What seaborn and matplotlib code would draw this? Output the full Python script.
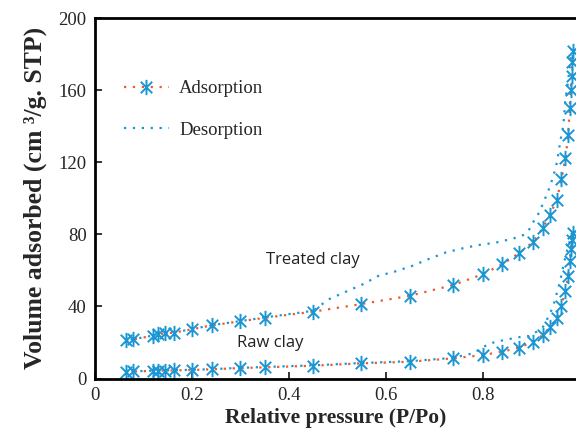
import numpy as np
import seaborn as sns
import matplotlib.pyplot as plt
from matplotlib.lines import Line2D
from matplotlib.path import Path

# Treated clay - adsorption branch (markers)
treated_ads_p = [0.064, 0.079, 0.119, 0.131, 0.144, 0.162, 0.200, 0.241, 0.299, 0.351,
                 0.451, 0.550, 0.650, 0.740, 0.800, 0.841, 0.875, 0.905, 0.924, 0.939,
                 0.953, 0.963, 0.971, 0.977, 0.980, 0.982, 0.984, 0.985, 0.987]
treated_ads_v = [21.4, 21.7, 23.7, 24.5, 25.1, 25.4, 27.3, 29.5, 31.7, 33.7,
                 37.1, 41.3, 45.9, 51.9, 57.8, 63.4, 69.5, 75.9, 83.3, 90.7,
                 98.8, 110.5, 122.2, 135.1, 149.9, 160.1, 168.0, 175.4, 181.9]

# Treated clay - desorption branch (dotted)
treated_des_p = [0.987, 0.984, 0.980, 0.977, 0.971, 0.967, 0.961, 0.954, 0.946, 0.936,
                 0.925, 0.918, 0.907, 0.898, 0.888, 0.876, 0.860, 0.843, 0.826, 0.790,
                 0.757, 0.724, 0.688, 0.655, 0.621, 0.585, 0.553, 0.515, 0.482, 0.451,
                 0.351, 0.299, 0.241, 0.200, 0.162, 0.119, 0.079, 0.064]
treated_des_v = [182.0, 182.3, 173.0, 165.6, 154.5, 140.6, 132.3, 120.3, 112.0, 104.2,
                 97.2, 92.5, 87.9, 83.3, 80.0, 78.7, 77.4, 76.4, 75.3, 74.0,
                 72.1, 69.9, 66.2, 62.5, 59.5, 56.9, 52.3, 47.8, 43.9, 37.6,
                 33.9, 31.8, 29.6, 27.4, 25.5, 23.8, 21.8, 21.5]

# Raw clay - adsorption branch (markers)
raw_ads_p = [0.064, 0.079, 0.119, 0.131, 0.144, 0.162, 0.200, 0.241, 0.299, 0.351,
             0.451, 0.550, 0.650, 0.740, 0.800, 0.841, 0.875, 0.905, 0.924, 0.939,
             0.953, 0.963, 0.971, 0.977, 0.980, 0.982, 0.984, 0.986]
raw_ads_v = [3.8, 3.9, 4.2, 4.3, 4.4, 4.5, 4.7, 5.1, 5.8, 6.2,
             7.1, 8.4, 9.3, 11.2, 13.0, 14.9, 17.1, 20.4, 24.1, 28.4,
             33.4, 40.2, 48.7, 56.9, 65.4, 71.7, 76.8, 80.5]

# Raw clay - desorption branch (dotted)
raw_des_p = [0.986, 0.984, 0.979, 0.973, 0.968, 0.963, 0.958, 0.951, 0.946, 0.938,
             0.925, 0.912, 0.896, 0.881, 0.863, 0.846, 0.828, 0.812, 0.781, 0.764,
             0.740, 0.650, 0.550, 0.451, 0.351, 0.299, 0.241, 0.200, 0.162, 0.119,
             0.079, 0.064]
raw_des_v = [80.5, 80.5, 75.0, 69.5, 63.9, 57.4, 51.9, 45.0, 40.2, 35.2,
             28.7, 26.0, 23.6, 23.2, 22.3, 21.4, 20.4, 19.1, 14.0, 13.0,
             11.5, 9.6, 8.6, 7.3, 6.4, 5.9, 5.2, 4.8, 4.6, 4.3,
             4.0, 3.9]

red = "#f0582a"
blue = "#1a96d4"
dots = (0, (1, 3))

# asterisk marker: vertical bar plus an X
star = Path([(0, -1), (0, 1), (-0.75, -0.75), (0.75, 0.75), (-0.75, 0.75), (0.75, -0.75)],
            [Path.MOVETO, Path.LINETO] * 3)

sns.set_style("ticks")
plt.rcParams["font.family"] = ["Liberation Serif", "DejaVu Serif"]

fig = plt.figure(figsize=(5.76, 4.29), dpi=100)
ax = fig.add_axes([0.165, 0.1177, 0.835, 0.8403])

for p, v in [(treated_des_p, treated_des_v), (raw_des_p, raw_des_v)]:
    sns.lineplot(x=p, y=v, ax=ax, sort=False, estimator=None, color=blue,
                 linestyle=dots, linewidth=1.6)
for p, v in [(treated_ads_p, treated_ads_v), (raw_ads_p, raw_ads_v)]:
    sns.lineplot(x=p, y=v, ax=ax, sort=False, estimator=None, color=red,
                 linestyle=dots, linewidth=1.6, marker=star, markersize=11,
                 markeredgecolor=blue, markerfacecolor="none", markeredgewidth=1.4)

ax.set_xlim(0, 0.993)
ax.set_ylim(0, 200)
ax.set_xticks([0, 0.2, 0.4, 0.6, 0.8])
ax.set_xticklabels(["0", "0.2", "0.4", "0.6", "0.8"])
ax.set_yticks([0, 40, 80, 120, 160, 200])
ax.tick_params(direction="in", length=5, width=1.3, labelsize=13.5, pad=6)

for side in ["left", "bottom", "top"]:
    ax.spines[side].set_linewidth(2)
    ax.spines[side].set_color("black")
ax.spines["right"].set_visible(False)

ax.set_xlabel("Relative pressure (P/Po)", fontsize=15.5, fontweight="bold", labelpad=3)
ax.set_ylabel("Volume adsorbed (cm \u00b3/g. STP)", fontsize=18.5, fontweight="bold", labelpad=8)

ax.text(0.45, 65.5, "Treated clay", fontsize=12, family="Open Sans", ha="center", va="center", color="#222222")
ax.text(0.361, 19.5, "Raw clay", fontsize=12, family="Open Sans", ha="center", va="center", color="#222222")

handles = [
    Line2D([], [], color=red, linestyle=dots, linewidth=1.6, marker=star, markersize=11,
           markeredgecolor=blue, markerfacecolor="none", markeredgewidth=1.4),
    Line2D([], [], color=blue, linestyle=dots, linewidth=1.6),
]
ax.legend(handles, ["Adsorption", "Desorption"], loc="upper left", bbox_to_anchor=(0.025, 0.875),
          frameon=False, fontsize=13.5, labelspacing=1.3, handlelength=2.4, handletextpad=0.55)

fig.savefig("out.png", dpi=100)
